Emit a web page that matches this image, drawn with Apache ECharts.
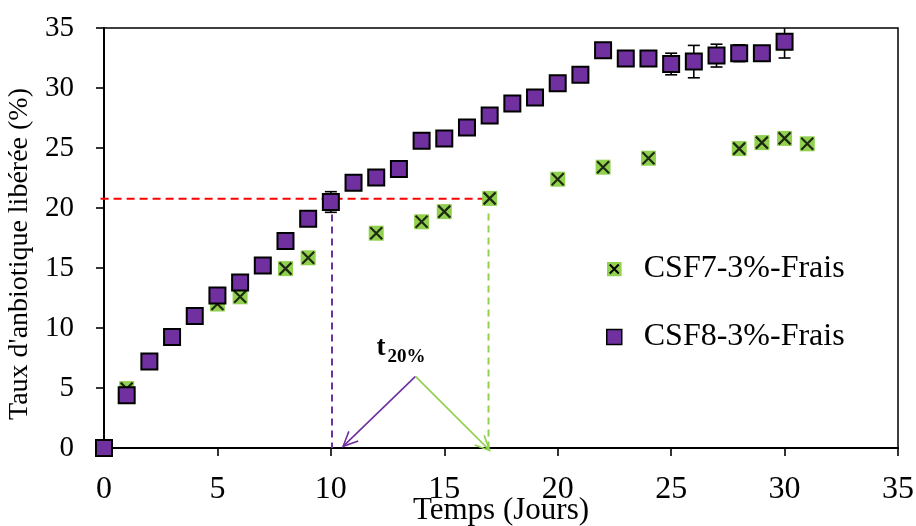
<!DOCTYPE html>
<html>
<head>
<meta charset="utf-8">
<script src="https://cdn.jsdelivr.net/npm/echarts@6/dist/echarts.min.js"></script>
<style>html,body{margin:0;padding:0;background:#fff}#c{width:916px;height:526px}</style>
</head>
<body>
<div id="c"></div>
<script>
// ---- data ----
const seriesNames = ['CSF7-3%-Frais', 'CSF8-3%-Frais'];
const daysCSF7 = [0, 1, 5, 6, 8, 9, 12, 14, 15, 17, 20, 22, 24, 28, 29, 30, 31];
const valuesCSF7 = [0, 4.95, 12.0, 12.6, 14.95, 15.85, 17.9, 18.85, 19.7, 20.8, 22.4, 23.4, 24.15, 24.95, 25.45, 25.8, 25.35];
const daysCSF8 = [0,1,2,3,4,5,6,7,8,9,10,11,12,13,14,15,16,17,18,19,20,21,22,23,24,25,26,27,28,29,30];
const valuesCSF8 = [0, 4.4, 7.2, 9.25, 11.0, 12.7, 13.8, 15.2, 17.25, 19.1, 20.5, 22.1, 22.55, 23.25, 25.6, 25.8, 26.7, 27.7, 28.7, 29.2, 30.4, 31.1, 33.15, 32.45, 32.45, 32.0, 32.2, 32.7, 32.9, 32.9, 33.85];
const errDaysCSF8 = [10, 24, 25, 26, 27, 28, 30];
const errCSF8 = [0.86, 0.62, 0.9, 1.35, 0.95, 0.7, 1.35];
const xTicks = [0, 5, 10, 15, 20, 25, 30, 35];
const yTicks = [0, 5, 10, 15, 20, 25, 30, 35];
// t20% annotation (data units)
const t20Level = 20.78;
const t20CSF8 = 10.05;
const t20CSF7 = 16.95;
const arrowApex = [13.73, 5.97];
const arrowTipCSF8 = [10.54, 0.14];
const arrowTipCSF7 = [17.0, -0.2];

// ---- styles ----
const FONT = "'Liberation Serif','Times New Roman',serif";
const PURPLE = '#7030A0';
const GREEN = '#92D050';
const RED = '#FF0000';

const greenXSvg = '<svg xmlns="http://www.w3.org/2000/svg" width="30" height="30" viewBox="0 0 30 30"><rect width="30" height="30" fill="' + GREEN + '"/><path d="M6,6L24,24M24,6L6,24" stroke="#000" stroke-width="4"/></svg>';
const greenXIcon = 'image://data:image/svg+xml;charset=utf-8,' + encodeURIComponent(greenXSvg);

const csf7Data = daysCSF7.map((d, i) => [d, valuesCSF7[i]]);
const csf8Data = daysCSF8.map((d, i) => [d, valuesCSF8[i]]);
const errData = errDaysCSF8.map((d, i) => [d, valuesCSF8[daysCSF8.indexOf(d)], errCSF8[i]]);

function renderErr(params, api) {
  const x = api.value(0), y = api.value(1), e = api.value(2);
  const top = api.coord([x, y + e]);
  const bot = api.coord([x, y - e]);
  const hw = 6;
  const st = { stroke: '#000', lineWidth: 1.6 };
  return {
    type: 'group',
    children: [
      { type: 'line', shape: { x1: top[0], y1: top[1], x2: bot[0], y2: bot[1] }, style: st },
      { type: 'line', shape: { x1: top[0] - hw, y1: top[1], x2: top[0] + hw, y2: top[1] }, style: st },
      { type: 'line', shape: { x1: bot[0] - hw, y1: bot[1], x2: bot[0] + hw, y2: bot[1] }, style: st }
    ]
  };
}

function arrowHead(from, to, len, ang) {
  const a = Math.atan2(from[1] - to[1], from[0] - to[0]);
  return [
    [to[0] + len * Math.cos(a + ang), to[1] + len * Math.sin(a + ang)],
    [to[0], to[1]],
    [to[0] + len * Math.cos(a - ang), to[1] + len * Math.sin(a - ang)]
  ];
}

function renderAnnot(params, api) {
  const r0 = api.coord([-0.15, t20Level]);
  const r1 = api.coord([t20CSF7, t20Level]);
  const p0 = api.coord([t20CSF8, 19.45]);
  const p1 = api.coord([t20CSF8, 0]);
  const g0 = api.coord([t20CSF7, 19.55]);
  const g1 = api.coord([t20CSF7, -0.25]);
  const apex = api.coord(arrowApex);
  const tp = api.coord(arrowTipCSF8);
  const tg = api.coord(arrowTipCSF7);
  const head = 16, ang = 25 * Math.PI / 180;
  return {
    type: 'group',
    children: [
      { type: 'line', shape: { x1: r0[0], y1: r0[1], x2: r1[0], y2: r1[1] }, style: { stroke: RED, lineWidth: 2, lineDash: [8, 5] } },
      { type: 'line', shape: { x1: p0[0], y1: p0[1], x2: p1[0], y2: p1[1] }, style: { stroke: PURPLE, lineWidth: 2, lineDash: [7, 5] } },
      { type: 'line', shape: { x1: g0[0], y1: g0[1], x2: g1[0], y2: g1[1] }, style: { stroke: GREEN, lineWidth: 2, lineDash: [7, 5] } },
      { type: 'line', shape: { x1: apex[0], y1: apex[1], x2: tp[0], y2: tp[1] }, style: { stroke: PURPLE, lineWidth: 1.6 } },
      { type: 'polyline', shape: { points: arrowHead(apex, tp, head, ang) }, style: { stroke: PURPLE, lineWidth: 1.6, fill: null } },
      { type: 'line', shape: { x1: apex[0], y1: apex[1], x2: tg[0], y2: tg[1] }, style: { stroke: GREEN, lineWidth: 1.6 } },
      { type: 'polyline', shape: { points: arrowHead(apex, tg, head, ang) }, style: { stroke: GREEN, lineWidth: 1.6, fill: null } },
      { type: 'text', x: apex[0] - 39, y: apex[1] - 15, style: { text: 't', font: 'bold 27px ' + FONT, fill: '#000', align: 'left', verticalAlign: 'bottom' } },
      { type: 'text', x: apex[0] - 28, y: apex[1] - 10, style: { text: '20%', font: 'bold 19px ' + FONT, fill: '#000', align: 'left', verticalAlign: 'bottom' } }
    ]
  };
}

const chart = echarts.init(document.getElementById('c'), null, { renderer: 'canvas' });
chart.setOption({
  animation: false,
  backgroundColor: '#fff',
  grid: { left: 104, right: 18, top: 28, bottom: 78, containLabel: false, outerBoundsMode: 'none', show: true, borderColor: '#000', borderWidth: 1.5, backgroundColor: 'transparent' },
  xAxis: {
    type: 'value', min: xTicks[0], max: xTicks[xTicks.length - 1], interval: 5,
    name: 'Temps (Jours)', nameLocation: 'middle', nameGap: 47, nameMoveOverlap: false,
    nameTextStyle: { fontFamily: FONT, fontSize: 31, color: '#000' },
    axisLine: { show: true, onZero: false, lineStyle: { color: '#000', width: 2 } },
    axisTick: { show: true, inside: false, length: 8, lineStyle: { color: '#000', width: 1.6 } },
    axisLabel: { margin: 26, fontFamily: FONT, fontSize: 32, color: '#000' },
    splitLine: { show: false }
  },
  yAxis: {
    type: 'value', min: yTicks[0], max: yTicks[yTicks.length - 1], interval: 5,
    name: "Taux d'anbiotique libérée (%)", nameLocation: 'middle', nameGap: 68,
    nameTextStyle: { fontFamily: FONT, fontSize: 28, color: '#000', padding: [0, 32, 0, 0] },
    axisLine: { show: true, onZero: false, lineStyle: { color: '#000', width: 2 } },
    axisTick: { show: true, inside: false, length: 8, lineStyle: { color: '#000', width: 1.6 } },
    axisLabel: { margin: 30, fontFamily: FONT, fontSize: 29, color: '#000' },
    splitLine: { show: false }
  },
  legend: {
    orient: 'vertical', left: 606, top: 252, padding: 0,
    itemWidth: 15, itemHeight: 15, itemGap: 34,
    textStyle: { fontFamily: FONT, fontSize: 32, color: '#000', lineHeight: 34, padding: [0, 0, 0, 17] },
    data: [
      { name: seriesNames[0], icon: greenXIcon },
      { name: seriesNames[1], icon: 'rect', itemStyle: { color: PURPLE, borderColor: '#000', borderWidth: 1.5 } }
    ]
  },
  series: [
    {
      type: 'custom', name: 'annot', silent: true, clip: false, z: 1,
      renderItem: renderAnnot, data: [[0, 0]]
    },
    {
      type: 'scatter', name: seriesNames[0], data: csf7Data, symbol: 'rect', symbolSize: 15, z: 2,
      itemStyle: { color: GREEN, opacity: 1 }
    },
    {
      type: 'scatter', name: 'CSF7-x', data: csf7Data, z: 3,
      symbol: 'path://M0,0L10,10M10,0L0,10', symbolSize: 12,
      itemStyle: { color: 'transparent', borderColor: '#000', borderWidth: 2.2 }
    },
    {
      type: 'custom', name: 'err', renderItem: renderErr, data: errData, clip: true, z: 4,
      encode: { x: 0, y: 1 }
    },
    {
      type: 'scatter', name: seriesNames[1], data: csf8Data, symbol: 'rect', symbolSize: 16, z: 5,
      itemStyle: { color: PURPLE, borderColor: '#000', borderWidth: 2, opacity: 1 }
    }
  ]
});
</script>
</body>
</html>
